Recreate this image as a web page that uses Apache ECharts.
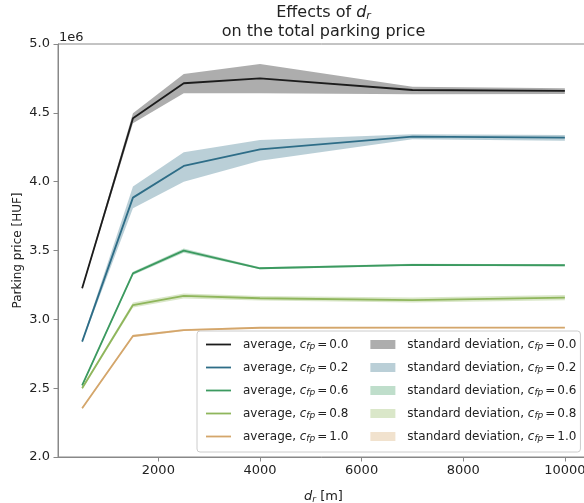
<!DOCTYPE html>
<html>
<head>
<meta charset="utf-8">
<script src="https://cdn.jsdelivr.net/npm/echarts@6/dist/echarts.min.js"></script>
<style>
html,body{margin:0;padding:0;background:#fff;}
#c{width:584px;height:503px;}
</style>
</head>
<body>
<div id="c"></div>
<script>
// ---- data ----
const dr = [500, 1500, 2500, 4000, 7000, 10000];
const xTicks = [2000, 4000, 6000, 8000, 10000];
const cfpLabels = ['0.0', '0.2', '0.6', '0.8', '1.0'];

const avg00 = [3.225e6, 4.460e6, 4.715e6, 4.751e6, 4.666e6, 4.659e6];
const lo00  = [3.215e6, 4.424e6, 4.642e6, 4.642e6, 4.635e6, 4.637e6];
const hi00  = [3.235e6, 4.497e6, 4.782e6, 4.855e6, 4.690e6, 4.678e6];

const avg02 = [2.838e6, 3.884e6, 4.114e6, 4.235e6, 4.327e6, 4.320e6];
const lo02  = [2.830e6, 3.806e6, 4.000e6, 4.152e6, 4.308e6, 4.298e6];
const hi02  = [2.846e6, 3.964e6, 4.213e6, 4.303e6, 4.344e6, 4.339e6];

const avg06 = [2.520e6, 3.334e6, 3.499e6, 3.371e6, 3.395e6, 3.393e6];
const lo06  = [2.510e6, 3.322e6, 3.484e6, 3.364e6, 3.387e6, 3.386e6];
const hi06  = [2.530e6, 3.346e6, 3.514e6, 3.378e6, 3.403e6, 3.400e6];

const avg08 = [2.500e6, 3.104e6, 3.170e6, 3.153e6, 3.140e6, 3.157e6];
const lo08  = [2.490e6, 3.086e6, 3.152e6, 3.137e6, 3.122e6, 3.138e6];
const hi08  = [2.510e6, 3.122e6, 3.188e6, 3.169e6, 3.158e6, 3.176e6];

const avg10 = [2.354e6, 2.879e6, 2.922e6, 2.939e6, 2.940e6, 2.940e6];
const lo10  = [2.347e6, 2.870e6, 2.915e6, 2.933e6, 2.935e6, 2.935e6];
const hi10  = [2.361e6, 2.888e6, 2.929e6, 2.945e6, 2.945e6, 2.945e6];

const avgs = [avg00, avg02, avg06, avg08, avg10];
const los = [lo00, lo02, lo06, lo08, lo10];
const his = [hi00, hi02, hi06, hi08, hi10];

const lineColors = ['#1c1c1c', '#2e6d87', '#3c9a60', '#8fb65c', '#d4a66b'];
const bandColors = ['rgba(28,28,28,0.36)', 'rgba(46,109,135,0.33)', 'rgba(60,154,96,0.33)', 'rgba(143,182,92,0.33)', 'rgba(212,166,107,0.33)'];

// ---- build ----
const FONT = 'DejaVu Sans';
const TXT = '#222';
const AX = '#888';

const series = [];
const legendData = [];
const avgNames = cfpLabels.map(c => 'average, c_fp=' + c);
const sdNames = cfpLabels.map(c => 'standard deviation, c_fp=' + c);

function makeBandRender(color) {
  return function (params, api) {
    if (params.dataIndexInside !== 0) return null;
    const n = params.dataInsideLength;
    const upper = [], lower = [];
    for (let j = 0; j < n; j++) {
      upper.push(api.coord([api.value(0, j), api.value(2, j)]));
      lower.push(api.coord([api.value(0, j), api.value(1, j)]));
    }
    const pts = upper.concat(lower.reverse());
    return { type: 'polygon', shape: { points: pts }, style: { fill: color, stroke: null } };
  };
}

for (let i = 0; i < 5; i++) {
  series.push({
    type: 'custom', name: sdNames[i], silent: true, color: bandColors[i],
    renderItem: makeBandRender(bandColors[i]),
    encode: { x: 0, y: [1, 2] },
    data: dr.map((x, j) => [x, los[i][j], his[i][j]]),
    z: 1
  });
}
for (let i = 0; i < 5; i++) {
  series.push({
    type: 'line', name: avgNames[i], symbol: 'none', showSymbol: false, silent: true,
    color: lineColors[i],
    data: dr.map((x, j) => [x, avgs[i][j]]),
    lineStyle: { color: lineColors[i], width: 1.8 }, z: 3
  });
}
for (let i = 0; i < 5; i++) {
  legendData.push({
    name: avgNames[i], icon: 'path://M0,0 H25 V1.8 H0 Z',
    itemStyle: { color: lineColors[i], borderWidth: 0, borderColor: 'transparent' }
  });
}
for (let i = 0; i < 5; i++) {
  legendData.push({
    name: sdNames[i], icon: 'rect',
    itemStyle: { color: bandColors[i], borderWidth: 0, borderColor: 'transparent' }
  });
}

const chart = echarts.init(document.getElementById('c'), null, { renderer: 'canvas' });
chart.setOption({
  animation: false,
  backgroundColor: '#fff',
  title: {
    text: '{t|Effects of }{it|d}{sub|r}\n{t|on the total parking price}',
    left: 323.5, top: 3, padding: 0, textAlign: 'center',
    textStyle: {
      fontFamily: FONT, fontSize: 16, color: TXT, fontWeight: 'normal', lineHeight: 19,
      rich: {
        t: { fontFamily: FONT, fontSize: 16, color: TXT, lineHeight: 19 },
        it: { fontFamily: FONT, fontSize: 16, color: TXT, fontStyle: 'italic', lineHeight: 19 },
        sub: { fontFamily: FONT, fontSize: 11, color: TXT, fontStyle: 'italic', lineHeight: 11, padding: [7, 0, 0, 0] }
      }
    }
  },
  grid: {
    left: 58, right: -5, top: 44, bottom: 46,
    show: true, borderColor: AX, borderWidth: 1, backgroundColor: 'transparent',
    outerBoundsMode: 'none', containLabel: false
  },
  xAxis: {
    type: 'value', min: 25, max: 10475,
    name: '{it|d}{sub|r}{t| [m]}', nameLocation: 'middle', nameGap: 32, nameMoveOverlap: false,
    nameTextStyle: {
      fontFamily: FONT, fontSize: 13, color: TXT,
      rich: {
        t: { fontFamily: FONT, fontSize: 13, color: TXT, lineHeight: 15 },
        it: { fontFamily: FONT, fontSize: 13, color: TXT, fontStyle: 'italic', lineHeight: 15 },
        sub: { fontFamily: FONT, fontSize: 9, color: TXT, fontStyle: 'italic', lineHeight: 9, padding: [6, 0, 0, 0] }
      }
    },
    axisLine: { show: true, onZero: false, lineStyle: { color: AX, width: 1 } },
    axisTick: { show: true, length: 4.5, lineStyle: { color: AX }, customValues: xTicks },
    axisLabel: { fontFamily: FONT, fontSize: 13, color: TXT, margin: 7, customValues: xTicks, formatter: v => String(v) },
    splitLine: { show: false }
  },
  yAxis: {
    type: 'value', min: 2e6, max: 5e6, interval: 5e5,
    name: 'Parking price [HUF]', nameLocation: 'middle', nameGap: 34, nameRotate: 90, nameMoveOverlap: false,
    nameTextStyle: { fontFamily: FONT, fontSize: 12, color: TXT },
    axisLine: { show: true, lineStyle: { color: AX, width: 1 } },
    axisTick: { show: true, length: 4.5, lineStyle: { color: AX } },
    axisLabel: { fontFamily: FONT, fontSize: 13, color: TXT, margin: 8, formatter: v => (v / 1e6).toFixed(1) },
    splitLine: { show: false }
  },
  legend: {
    type: 'plain', orient: 'vertical',
    left: 197, top: 331, height: 110,
    padding: [7, 4, 9, 9],
    itemGap: 10, itemWidth: 25, itemHeight: 9,
    backgroundColor: 'rgba(255,255,255,0.8)', borderColor: '#cccccc', borderWidth: 1, borderRadius: 3,
    data: legendData,
    formatter: name => {
      const m = name.match(/^(.*), c_fp=(.*)$/);
      const tail = m[1] === 'average' ? '{p| }' : '';
      return '{n|' + m[1] + ', }{i|c}{s|fp}{e|=}{n|' + m[2] + '}' + tail;
    },
    textStyle: {
      fontFamily: FONT, fontSize: 12, color: TXT, padding: [0, 0, 0, 7],
      rich: {
        n: { fontFamily: FONT, fontSize: 12, color: TXT, lineHeight: 13 },
        e: { fontFamily: FONT, fontSize: 12, color: TXT, lineHeight: 13, padding: [0, 2, 0, 2] },
        i: { fontFamily: FONT, fontSize: 12, color: TXT, fontStyle: 'italic', lineHeight: 13 },
        s: { fontFamily: FONT, fontSize: 9, color: TXT, fontStyle: 'italic', lineHeight: 9, padding: [4, 0, 0, 0] },
        p: { fontFamily: FONT, fontSize: 12, lineHeight: 13, width: 12 }
      }
    }
  },
  graphic: [{
    type: 'text', left: 59, top: 31,
    style: { text: '1e6', fontFamily: FONT, fontSize: 13, fill: TXT }
  }],
  series: series
});
</script>
</body>
</html>
